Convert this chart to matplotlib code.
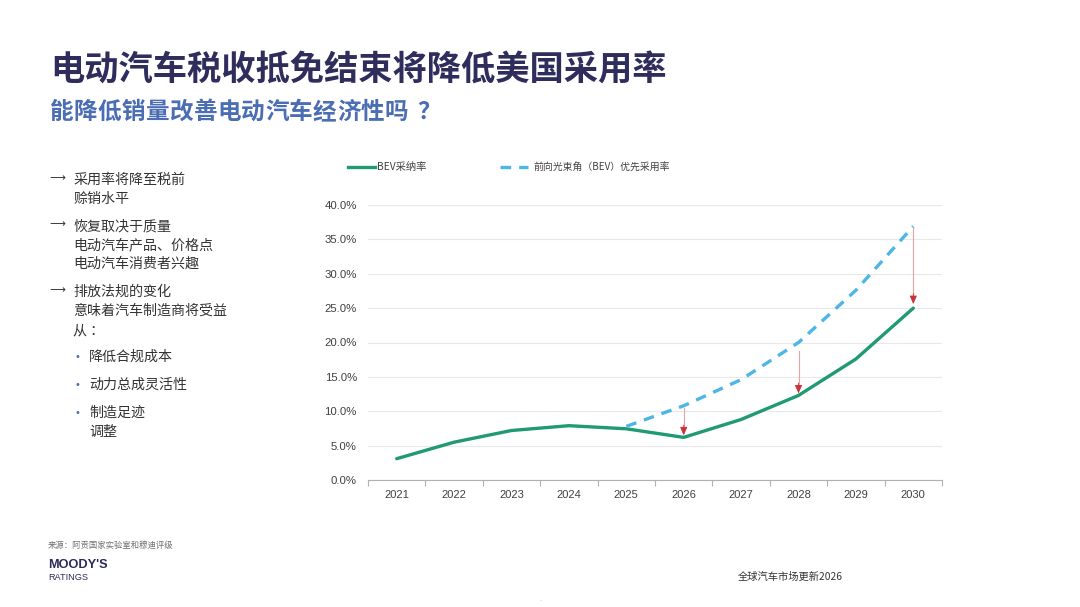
import matplotlib
matplotlib.use("Agg")
import matplotlib.pyplot as plt
import numpy as np

plt.rcParams['font.family'] = ['Noto Sans CJK SC', 'DejaVu Sans']

years = ['2021', '2022', '2023', '2024', '2025', '2026', '2027', '2028', '2029', '2030']
bev_adoption = [3.1, 5.5, 7.2, 7.9, 7.45, 6.2, 8.8, 12.3, 17.6, 25.0]
fwd_years = ['2025', '2026', '2027', '2028', '2029', '2030']
fwd_adoption = [7.8, 10.8, 14.6, 20.0, 27.6, 36.9]
arrow_years = ['2026', '2028', '2030']
arrow_from = [10.5, 18.7, 36.6]
arrow_to = [6.5, 12.6, 25.6]
yticks = [0, 5, 10, 15, 20, 25, 30, 35, 40]

title = '电动汽车税收抵免结束将降低美国采用率'
subtitle = '能降低销量改善电动汽车经济性吗？'
legend_labels = ['BEV采纳率', '前向光束角（BEV）优先采用率']

W, H = 1080, 607
fig = plt.figure(figsize=(W/100, H/100), dpi=100)

def fx(px):
    return px / W
def fy(py):
    return 1 - py / H

green = '#209a73'
blue = '#4cb6e6'
red = '#c8323a'

ax = fig.add_axes([fx(368), fy(480), fx(942) - fx(368), fy(205) - fy(480)])
xi = {y: i for i, y in enumerate(years)}
ax.plot([xi[y] for y in years], bev_adoption, color=green, lw=2.4, solid_capstyle='round',
        solid_joinstyle='round', zorder=3)
ax.plot([xi[y] for y in fwd_years], fwd_adoption, color=blue, lw=2.4, dashes=(3.2, 2.4), zorder=3)
for y, a, b in zip(arrow_years, arrow_from, arrow_to):
    ax.plot([xi[y], xi[y]], [a, b + 1], color='#e9a3a6', lw=0.8, zorder=3)
    ax.annotate('', xy=(xi[y], b), xytext=(xi[y], b + 1.5),
                arrowprops=dict(arrowstyle='-|>,head_length=0.5,head_width=0.22',
                                color=red, lw=0.6, shrinkA=0, shrinkB=0), zorder=4)

ax.set_xlim(-0.5, len(years) - 0.5)
ax.set_ylim(0, 40)
ax.set_yticks(yticks)
ax.set_yticklabels([f'{v:.1f}%' for v in yticks])
ax.set_xticks(range(len(years)))
ax.set_xticklabels(years)
ax.set_xticks(np.arange(-0.5, len(years), 1), minor=True)
ax.tick_params(axis='x', which='major', length=0, pad=7, labelsize=8, labelcolor='#404040')
ax.tick_params(axis='x', which='minor', length=4, color='#b0b0b0', width=0.8)
ax.tick_params(axis='y', length=0, pad=8, labelsize=8.2, labelcolor='#404040')
for lab in ax.get_yticklabels() + ax.get_xticklabels():
    lab.set_family(['Liberation Sans', 'DejaVu Sans'])
ax.grid(axis='y', color='#e8e8e8', lw=0.8)
ax.set_axisbelow(True)
for s in ['top', 'right', 'left']:
    ax.spines[s].set_visible(False)
ax.spines['bottom'].set_color('#b0b0b0')
ax.spines['bottom'].set_linewidth(0.8)

# legend (manual)
fig.add_artist(plt.Line2D([fx(348), fx(375)], [fy(167), fy(167)], color=green, lw=2.4))
fig.text(fx(377), fy(167), legend_labels[0], fontsize=7.4, va='center', color='#404040')
fig.add_artist(plt.Line2D([fx(500), fx(528)], [fy(167), fy(167)], color=blue, lw=2.4, dashes=(3.2, 2.4)))
fig.text(fx(533), fy(167), legend_labels[1], fontsize=7.1, va='center', color='#404040')

# titles
fig.text(fx(50), fy(70), title, fontsize=24.7, fontweight='bold', color='#2e2d5c', va='center')
sub_pitch = 23.9
for k, ch in enumerate(subtitle):
    extra = 9 if ch == '？' else 0
    fig.text(fx(50 + k * sub_pitch + extra), fy(112), ch, fontsize=17, fontweight='bold',
             color='#4a6db3', va='center')

# bullet text
tc = '#333333'
fs = 10.1
main_items = [
    (180, ['采用率将降至税前', '赊销水平']),
    (226, ['恢复取决于质量', '电动汽车产品、价格点', '电动汽车消费者兴趣']),
    (292, ['排放法规的变化', '意味着汽车制造商将受益', '从 ：']),
]
for y0, lines in main_items:
    fig.text(fx(49), fy(y0 - 2), '⟶', fontsize=8, color=tc, va='center', family=['DejaVu Sans'])
    for k, ln in enumerate(lines):
        fig.text(fx(73), fy(y0 + k * 19), ln, fontsize=fs, color=tc, va='center')
sub_items = [
    (357, ['降低合规成本']),
    (385, ['动力总成灵活性']),
    (413, ['制造足迹', '调整']),
]
for y0, lines in sub_items:
    fig.text(fx(75), fy(y0), '•', fontsize=7, color='#4a6db3', va='center', family=['DejaVu Sans'])
    for k, ln in enumerate(lines):
        fig.text(fx(89), fy(y0 + k * 19), ln, fontsize=fs, color=tc, va='center')

# footer
fig.text(fx(48), fy(545), '来源：阿贡国家实验室和穆迪评级', fontsize=6, color='#707070', va='center')
fig.text(fx(48), fy(565), "MOODY'S", fontsize=9.2, fontweight='bold', color='#2b2a5a', va='center',
         family=['Liberation Sans', 'DejaVu Sans'])
fig.text(fx(48), fy(577), 'RATINGS', fontsize=6.6, color='#2b2a5a', va='center',
         family=['Liberation Sans', 'DejaVu Sans'])
fig.text(fx(738), fy(577), '全球汽车市场更新2026', fontsize=7.4, color='#333333', va='center')
fig.text(fx(540), fy(601), '•', fontsize=3, color='#999999', va='center', ha='center')

fig.savefig('out.png', dpi=100)
